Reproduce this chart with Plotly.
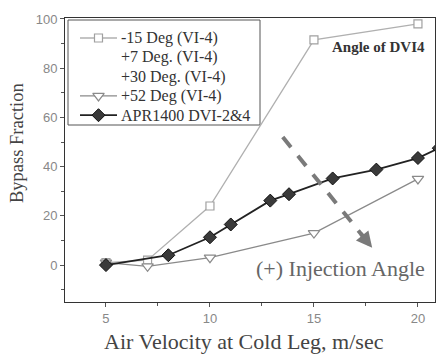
import plotly.graph_objects as go

# ---- data ----
x_m15 = [5, 7, 10, 15, 20]
y_m15 = [1, 2, 24, 91.5, 98]

x_p52 = [5, 7, 10, 15, 20]
y_p52 = [1, -0.5, 3, 13, 35]

x_apr = [5, 8, 10, 11, 12.9, 13.8, 15.9, 18, 20, 21]
y_apr = [0, 4, 11.3, 16.5, 26.2, 28.8, 35.2, 38.8, 43.5, 47.5]

x_ticks = [5, 10, 15, 20]
y_ticks = [0, 20, 40, 60, 80, 100]

names = ["-15 Deg (VI-4)", "+7 Deg. (VI-4)", "+30 Deg. (VI-4)",
         "+52 Deg (VI-4)", "APR1400 DVI-2&4"]

x_title = "Air Velocity at Cold Leg, m/sec"
y_title = "Bypass Fraction"

# dashed arrow (data coords) and labels
arrow_start = (13.5, 52)
arrow_end = (17.8, 7)
label_angle = "Angle of DVI4"
label_inj = "(+) Injection Angle"

SERIF = "Liberation Serif"
SANS = "Liberation Sans"

# plot-area geometry in pixels
W, H = 440, 356
L, R, T, B = 65, 5, 18, 54
PW, PH = W - L - R, H - T - B


def fx(px):
    return (px - L) / PW


def fy(py):
    return (H - B - py) / PH


# series styles
styles = [
    dict(line=dict(color="#b0b0b0", width=1.3),
         marker=dict(symbol="square", size=8, color="white",
                     line=dict(color="#a0a0a0", width=1.2))),
    None,
    None,
    dict(line=dict(color="#8a8a8a", width=1.3),
         marker=dict(symbol="triangle-down", size=10, color="white",
                     line=dict(color="#8a8a8a", width=1.2))),
    dict(line=dict(color="#222222", width=1.8),
         marker=dict(symbol="diamond", size=10, color="#3a3a3a",
                     line=dict(color="#111111", width=1))),
]

fig = go.Figure()
fig.add_trace(go.Scatter(x=x_m15, y=y_m15, name=names[0], mode="lines+markers",
                         showlegend=False, **styles[0]))
fig.add_trace(go.Scatter(x=x_p52, y=y_p52, name=names[3], mode="lines+markers",
                         showlegend=False, **styles[3]))
fig.add_trace(go.Scatter(x=x_apr, y=y_apr, name=names[4], mode="lines+markers",
                         showlegend=False, **styles[4]))

# ---- manual legend ----
leg_box = (68, 20, 260, 125)   # px: left, top, right, bottom
row_y = [38, 57.3, 76.6, 95.9, 115.2]
sym_x0, sym_x1, text_x = 80, 117, 119
fig.add_shape(type="rect", xref="paper", yref="paper",
              x0=fx(leg_box[0]), x1=fx(leg_box[2]),
              y0=fy(leg_box[3]), y1=fy(leg_box[1]),
              line=dict(color="#555", width=1), fillcolor="white", layer="below")
for i, nm in enumerate(names):
    fig.add_annotation(x=fx(text_x), y=fy(row_y[i]), xref="paper", yref="paper",
                       xanchor="left", yanchor="middle", text=nm, showarrow=False,
                       font=dict(family=SERIF, size=16, color="#333"))
    st = styles[i]
    if st is None:
        continue
    fig.add_trace(go.Scatter(
        x=[fx(sym_x0), fx(sym_x1)], y=[fy(row_y[i])] * 2, mode="lines",
        line=st["line"], xaxis="x2", yaxis="y2", showlegend=False, hoverinfo="skip"))
    fig.add_trace(go.Scatter(
        x=[fx((sym_x0 + sym_x1) / 2)], y=[fy(row_y[i])], mode="markers",
        marker=st["marker"], xaxis="x2", yaxis="y2", showlegend=False, hoverinfo="skip"))

# dashed arrow body
fig.add_shape(type="line", xref="x", yref="y",
              x0=arrow_start[0], y0=arrow_start[1],
              x1=arrow_end[0] - 0.3, y1=arrow_end[1] + 3.2,
              line=dict(color="#7a7a7a", width=4, dash="13px,11px"))
# arrow head
fig.add_annotation(x=arrow_end[0], y=arrow_end[1], ax=arrow_end[0] - 0.6,
                   ay=arrow_end[1] + 6.3, xref="x", yref="y", axref="x", ayref="y",
                   text="", showarrow=True, arrowhead=2, arrowsize=0.8,
                   arrowwidth=4, arrowcolor="#7a7a7a")

fig.add_annotation(x=18.1, y=88.6, xref="x", yref="y", text="<b>" + label_angle + "</b>",
                   showarrow=False, font=dict(family=SERIF, size=15, color="#333"))
fig.add_annotation(x=16.3, y=-1.5, xref="x", yref="y", text=label_inj,
                   showarrow=False, font=dict(family=SERIF, size=22, color="#666"))

# axis titles
fig.add_annotation(x=fx(243.5), y=fy(341), xref="paper", yref="paper",
                   xanchor="center", yanchor="middle", text=x_title, showarrow=False,
                   font=dict(family=SERIF, size=22, color="#444"))
fig.add_annotation(x=fx(17), y=fy(143), xref="paper", yref="paper",
                   xanchor="center", yanchor="middle", text=y_title, showarrow=False,
                   textangle=-90, font=dict(family=SERIF, size=18.5, color="#444"))

fig.update_layout(
    width=W, height=H,
    margin=dict(l=L, r=R, t=T, b=B),
    paper_bgcolor="white", plot_bgcolor="white",
    showlegend=False,
    xaxis=dict(
        range=[3.03, 20.82], tickvals=x_ticks, ticks="outside", ticklen=4,
        tickcolor="#555", showgrid=False, zeroline=False,
        showline=True, linecolor="#333", linewidth=1, mirror=True,
        minor=dict(tickvals=[7.5, 12.5, 17.5], ticks="outside", ticklen=3, tickcolor="#555"),
        tickfont=dict(family=SANS, size=13, color="#888")),
    yaxis=dict(
        range=[-15, 100.4], tickvals=y_ticks, ticks="outside", ticklen=4,
        tickcolor="#555", showgrid=False, zeroline=False,
        showline=True, linecolor="#333", linewidth=1, mirror=True,
        minor=dict(tickvals=[-10, 10, 30, 50, 70, 90], ticks="outside", ticklen=3,
                   tickcolor="#555"),
        tickfont=dict(family=SANS, size=13, color="#888")),
    xaxis2=dict(overlaying="x", range=[0, 1], visible=False, fixedrange=True),
    yaxis2=dict(overlaying="y", range=[0, 1], visible=False, fixedrange=True),
)

fig.write_html("out.html", config={"displayModeBar": False},
               post_script="document.body.style.margin='0';")
